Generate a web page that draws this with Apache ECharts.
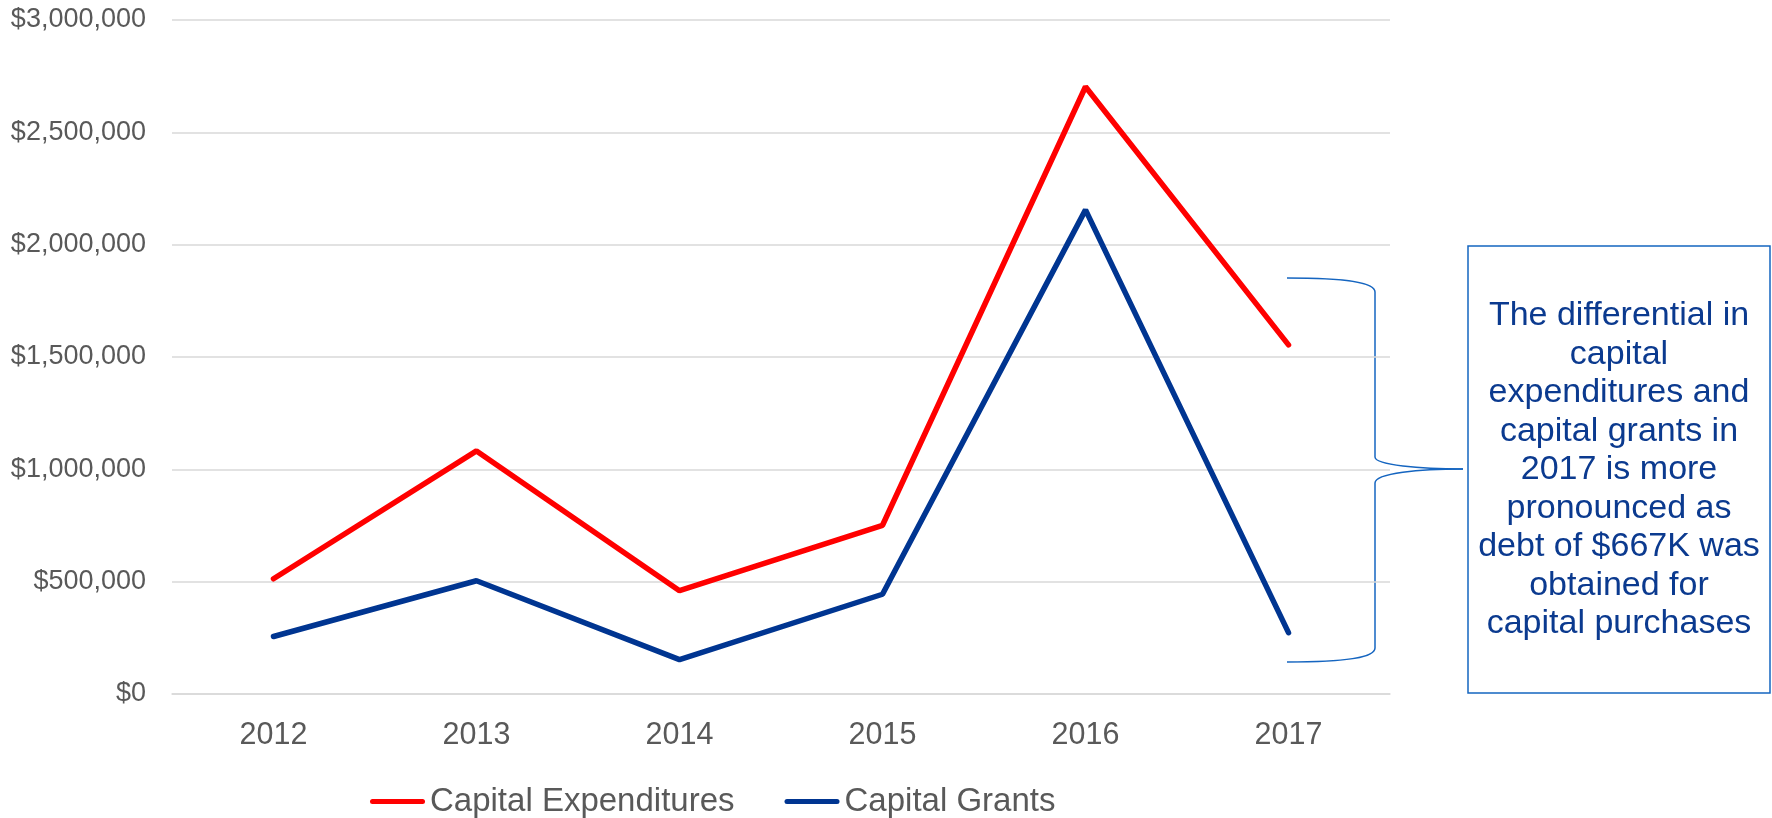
<!DOCTYPE html>
<html>
<head>
    <meta charset="utf-8">
    <title>Capital Expenditures vs Capital Grants</title>
    <script src="https://cdn.jsdelivr.net/npm/echarts@6/dist/echarts.min.js"></script>
    <style>
        html, body { margin: 0; padding: 0; background: #fff; }
        #main { width: 1772px; height: 818px; }
    </style>
</head>
<body>
    <div id="main"></div>
    <script>
        // data
        const years = ['2012', '2013', '2014', '2015', '2016', '2017'];
        const capitalExpenditures = [513000, 1082000, 460000, 751000, 2703000, 1554000];
        const capitalGrants = [256000, 504000, 153000, 444000, 2155000, 273000];
        const noteLines = [
            'The differential in',
            'capital',
            'expenditures and',
            'capital grants in',
            '2017 is more',
            'pronounced as',
            'debt of $667K was',
            'obtained for',
            'capital purchases'
        ];

        const font = 'Arial, "Liberation Sans", sans-serif';
        const gray = '#595959';
        const noteBlue = '#1565c0';

        const chart = echarts.init(document.getElementById('main'));

        // curly brace pieces
        const braceStyle = { fill: null, stroke: noteBlue, lineWidth: 1.5 };
        const curve = (x1, y1, cpx1, cpy1, cpx2, cpy2, x2, y2) => ({
            type: 'bezierCurve',
            shape: { x1, y1, cpx1, cpy1, cpx2, cpy2, x2, y2 },
            style: braceStyle
        });
        const segment = (x1, y1, x2, y2) => ({
            type: 'line',
            shape: { x1, y1, x2, y2 },
            style: braceStyle
        });

        const option = {
            animation: false,
            grid: { left: 172, right: 382, top: 20, bottom: 124 },
            xAxis: {
                type: 'category',
                data: years,
                boundaryGap: true,
                axisLine: { show: true, lineStyle: { color: '#d9d9d9', width: 1.5 } },
                axisTick: { show: false },
                axisLabel: { color: gray, fontSize: 30.5, fontFamily: font, margin: 26 }
            },
            yAxis: {
                type: 'value',
                min: 0,
                max: 3000000,
                interval: 500000,
                axisLine: { show: false },
                axisTick: { show: false },
                splitLine: { lineStyle: { color: '#d9d9d9', width: 1.5 } },
                axisLabel: {
                    color: gray,
                    fontSize: 27,
                    fontFamily: font,
                    margin: 26,
                    formatter: v => '$' + v.toLocaleString('en-US')
                }
            },
            legend: {
                left: 365,
                top: 780,
                itemWidth: 55,
                itemHeight: 38,
                itemGap: 50,
                icon: 'path://M2.5,16.5 L52.5,16.5 A2.5,2.5 0 0 1 52.5,21.5 L2.5,21.5 A2.5,2.5 0 0 1 2.5,16.5 Z',
                textStyle: { color: gray, fontSize: 33, fontFamily: font },
                data: ['Capital Expenditures', 'Capital Grants']
            },
            series: [
                {
                    name: 'Capital Expenditures',
                    type: 'line',
                    data: capitalExpenditures,
                    symbol: 'none',
                    itemStyle: { color: '#ff0000' },
                    lineStyle: { color: '#ff0000', width: 5.5, cap: 'round' }
                },
                {
                    name: 'Capital Grants',
                    type: 'line',
                    data: capitalGrants,
                    symbol: 'none',
                    itemStyle: { color: '#003591' },
                    lineStyle: { color: '#003591', width: 5.5, cap: 'round' }
                }
            ],
            graphic: [
                curve(1287, 278, 1350, 278, 1375, 283, 1375, 292),
                segment(1375, 292, 1375, 457),
                curve(1375, 457, 1375, 465, 1420, 469, 1463, 469),
                curve(1463, 469, 1420, 469, 1375, 473, 1375, 483),
                segment(1375, 483, 1375, 648),
                curve(1375, 648, 1375, 657, 1350, 662, 1287, 662),
                {
                    type: 'rect',
                    shape: { x: 1468, y: 246, width: 302, height: 447 },
                    style: { fill: '#fff', stroke: noteBlue, lineWidth: 1.5 }
                },
                {
                    type: 'text',
                    x: 1619,
                    y: 470,
                    style: {
                        text: noteLines.join('\n'),
                        align: 'center',
                        verticalAlign: 'middle',
                        fill: '#0b3a8f',
                        font: '34px ' + font,
                        lineHeight: 38.5
                    }
                }
            ]
        };

        chart.setOption(option);
        window.addEventListener('resize', () => chart.resize());
    </script>
</body>
</html>
